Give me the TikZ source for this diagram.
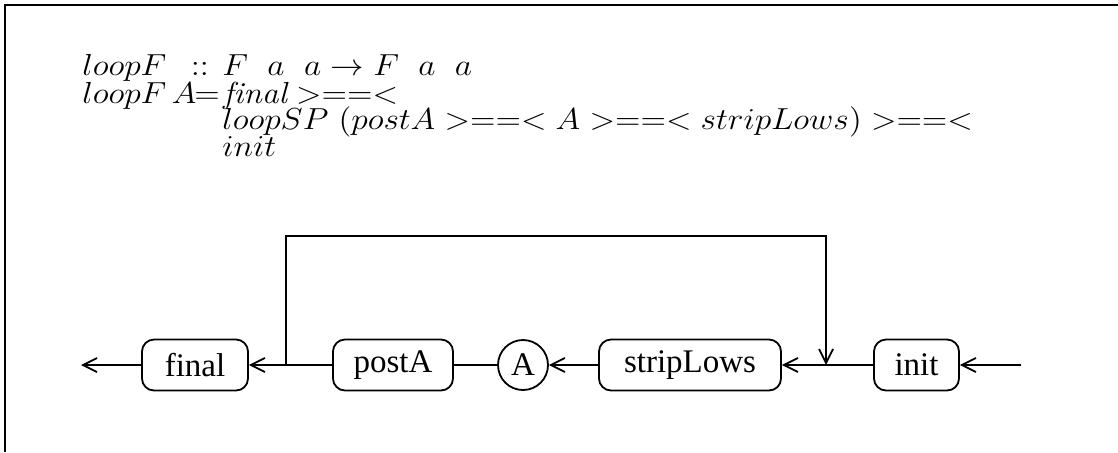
\RequirePackage{fix-cm}
\documentclass[tikz,border=0pt]{standalone}
\usepackage{fontspec}
\usepackage{graphicx}
\newfontfamily\diagfont{Liberation Serif}
\usetikzlibrary{arrows.meta}
\newcommand{\wm}[1]{\scalebox{1.1}[1]{$#1$}}
\begin{document}
\begin{tikzpicture}[x=0.5pt,y=-0.5pt,
  frame/.style={line width=1.2pt},
  conn/.style={line width=0.9pt},
  arr/.style={conn,-{Straight Barb[length=7pt,width=7pt,line width=0.9pt]}},
  proc/.style={draw,line width=0.9pt,rounded corners=6pt,minimum height=25.5pt,inner sep=0pt,font=\diagfont\fontsize{16.5}{18}\selectfont},
  circ/.style={draw,line width=0.9pt,circle,minimum size=25pt,inner sep=0pt,font=\diagfont\fontsize{16.5}{18}\selectfont},
  mtext/.style={anchor=base west,inner sep=0pt,font=\fontsize{15.2}{18}\selectfont},
  mrel/.style={anchor=base,inner sep=0pt,font=\fontsize{15.2}{18}\selectfont}]
\useasboundingbox (0,0) rectangle (1118,452);
% frame
\draw[frame] (5,452) -- (5,5) -- (1118,5);
% equations
\node[mtext] (l1a) at (82,75) {\wm{loopF}};
\node[mrel] (l1b) at (200,75) {\wm{::}};
\node[mtext] (l1c) at (222,75) {\wm{F\ \;a\ \;a \rightarrow F\ \;a\ \;a}};
\node[mtext] (l2a) at (82,103) {\wm{loopF\,A}};
\node[mrel] (l2b) at (207,103) {\wm{=}};
\node[mtext] (l2c) at (223,103) {\wm{\mathit{final} >==<}};
\node[mtext] (l3c) at (222,129) {\wm{loopSP\ (postA >==< A >==< stripLows) >==<}};
\node[mtext] (l4c) at (222,156) {\wm{init}};
% diagram
\node[proc,minimum width=53pt] (final) at (195,365) {final};
\node[proc,minimum width=60pt] (postA) at (393,365) {postA};
\node[circ] (A) at (523,365) {A};
\node[proc,minimum width=91pt] (strip) at (690,365) {stripLows};
\node[proc,minimum width=42.5pt] (init) at (916.5,365) {init};
\coordinate (outL) at (81,365);
\coordinate (inR) at (1021,365);
\coordinate (j1) at (286,365);
\coordinate (j2) at (826,365);
\coordinate (top) at (0,236);
\draw[arr] (final.west) -- (outL);
\draw[arr] (j1) -- (final.east);
\draw[conn] (postA.west) -- (j1);
\draw[conn] (postA.east) -- (A.west);
\draw[arr] (strip.west) -- (A.east);
\draw[arr] (j2) -- (strip.east);
\draw[conn] (init.west) -- (j2);
\draw[arr] (inR) -- (init.east);
\draw[arr] (j1) -- (j1 |- top) -- (j2 |- top) -- (j2);
\end{tikzpicture}
\end{document}
